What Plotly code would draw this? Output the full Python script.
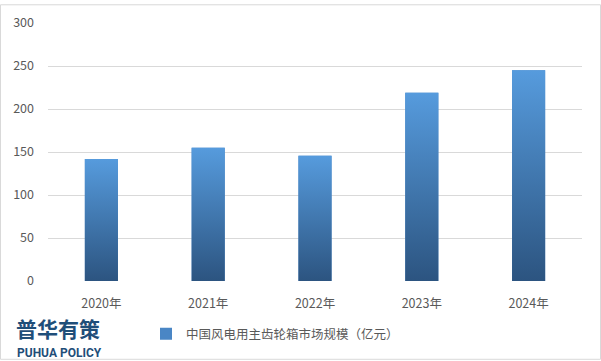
import plotly.graph_objects as go

categories = ["2020年", "2021年", "2022年", "2023年", "2024年"]
values = [142, 155, 145.5, 219, 245]
series_name = "中国风电用主齿轮箱市场规模（亿元）"
y_ticks = [0, 50, 100, 150, 200, 250, 300]

TOP = "#569BDD"
BOTTOM = "#2C5480"
BAR_W = 0.31
FONT = "Noto Sans CJK SC"

W, H = 601, 361
L, R, T, B = 48, 19, 19, 80
pw, ph = W - L - R, H - T - B

def px(x):
    return (x - L) / pw

def py(y):
    return (H - B - y) / ph

xs = list(range(len(categories)))
fig = go.Figure()
fig.add_trace(go.Bar(x=xs, y=values, width=BAR_W, name=series_name,
                     marker=dict(color="#4A86C5", line=dict(width=0)),
                     hoverinfo="skip"))
for i, v in zip(xs, values):
    fig.add_trace(go.Scatter(
        x=[i - BAR_W / 2, i + BAR_W / 2, i + BAR_W / 2, i - BAR_W / 2, i - BAR_W / 2],
        y=[0, 0, v, v, 0], mode="lines", line=dict(width=0), fill="toself",
        fillgradient=dict(type="vertical", colorscale=[[0, BOTTOM], [1, TOP]]),
        showlegend=False, hoverinfo="skip"))

fig.update_layout(
    width=W, height=H, margin=dict(l=L, r=R, t=T, b=B),
    paper_bgcolor="white", plot_bgcolor="white",
    font=dict(family=FONT, size=12.5, color="#595959"),
    showlegend=True,
    legend=dict(x=px(146), y=py(335), xanchor="left", yanchor="middle",
                font=dict(size=12.5, color="#595959"), bgcolor="rgba(0,0,0,0)",
                itemwidth=30),
    xaxis=dict(range=[-0.5, 4.5], tickvals=xs, ticktext=categories,
               showgrid=False, zeroline=False, showline=False, ticks="",
               ticklabelstandoff=13, fixedrange=True),
    yaxis=dict(range=[0, 300], tickvals=y_ticks, showgrid=True,
               gridcolor="#D9D9D9", gridwidth=1, zeroline=False, showline=False,
               ticks="", ticklabelstandoff=13, fixedrange=True),
    shapes=[dict(type="rect", xref="paper", yref="paper",
                 x0=px(0.5), x1=px(W - 0.5), y0=py(H - 0.5), y1=py(0.5),
                 line=dict(color="#D9D9D9", width=1), fillcolor="rgba(0,0,0,0)",
                 layer="below")],
    annotations=[
        dict(text="<b>普华有策</b>", xref="paper", yref="paper", x=px(14), y=py(329),
             xanchor="left", yanchor="middle", showarrow=False,
             font=dict(family=FONT, size=21, color="#1F4E79")),
        dict(text="<b>PUHUA POLICY</b>", xref="paper", yref="paper", x=px(15), y=py(354),
             xanchor="left", yanchor="middle", showarrow=False,
             font=dict(family="Roboto", size=12, color="#1F4E79")),
    ],
)
fig.write_html("out.html")
